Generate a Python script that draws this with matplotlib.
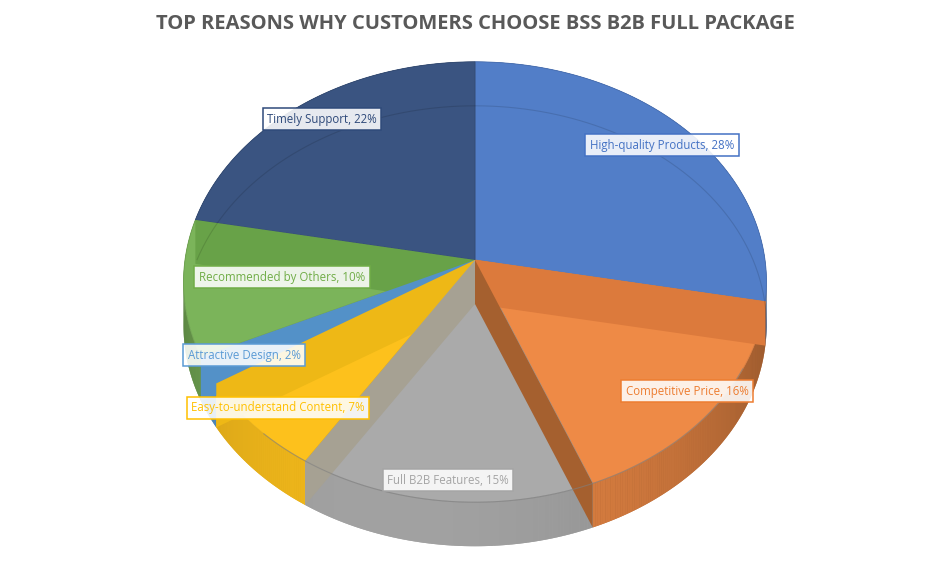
import numpy as np
import matplotlib
matplotlib.use("Agg")
import matplotlib.pyplot as plt
from matplotlib.patches import Polygon

# data
labels = ["High-quality Products", "Competitive Price", "Full B2B Features",
          "Easy-to-understand Content", "Attractive Design",
          "Recommended by Others", "Timely Support"]
values = [28, 16, 15, 7, 2, 10, 22]

# look
top_colors = ["#527EC8", "#EE8A46", "#AAAAAA", "#FDC11C", "#5A9BD3", "#7BB45A", "#3A5481"]
text_colors = ["#4472C4", "#ED7D31", "#A5A5A5", "#FFC000", "#5B9BD5", "#70AD47", "#2F4A7A"]
band_colors = [None, "#DC7A3C", "#A5602F", "#A6A193", "#EEB816", "#5391C8", "#68A248"]
label_pos = [(662, 145), (687, 391), (448, 480), (278, 408), (244, 355), (282, 277), (322, 119)]

W, H = 951, 564
CX, CY = 475, 260
RX, RY = 290, 218
K = 0.1
DEPTH = 44


def proj(theta, r=1.0, drop=0.0):
    t = np.radians(theta)
    X = r * np.sin(t)
    Z = -r * np.cos(t)
    s = 1.0 / (1 - K * Z)
    return CX + RX * X * s, CY + RY * Z * s + drop


def shade(theta):
    c = np.cos(np.radians(theta - 195))
    return 0.58 + 0.37 * np.clip((c + 0.2) / 1.2, 0, 1)


def darker(hexcol, f):
    r, g, b = matplotlib.colors.to_rgb(hexcol)
    return (r * f, g * f, b * f)


fig = plt.figure(figsize=(W / 100, H / 100), dpi=100)
ax = fig.add_axes([0, 0, 1, 1])
ax.set_xlim(0, W)
ax.set_ylim(H, 0)
ax.axis("off")

total = sum(values)
starts = np.cumsum([0] + values[:-1]) / total * 360
ends = np.cumsum(values) / total * 360

# side walls, back to front (a solid underlay per slice, then a smooth shading on top)
walls = []
for i in range(len(values)):
    a0, a1 = starts[i], ends[i]
    ts = np.linspace(a0, a1, max(3, int(a1 - a0) * 2 + 1))
    tm = 0.5 * (a0 + a1)
    outline = [proj(t) for t in ts] + [proj(t, drop=DEPTH) for t in ts[::-1]]
    walls.append((-np.cos(np.radians(tm)), i, ts, outline))
walls.sort(key=lambda w: w[0])
for d, i, ts, outline in walls:
    tm = 0.5 * (ts[0] + ts[-1])
    ax.add_patch(Polygon(outline, closed=True, fc=darker(top_colors[i], shade(tm)),
                         ec="none", zorder=1))
    for t0, t1 in zip(ts[:-1], ts[1:]):
        col = darker(top_colors[i], shade(0.5 * (t0 + t1)))
        pts = [proj(t0), proj(t1), proj(t1, drop=DEPTH), proj(t0, drop=DEPTH)]
        ax.add_patch(Polygon(pts, closed=True, fc=col, ec="none", lw=0, zorder=1))

# top faces
for i in range(len(values)):
    ts = np.linspace(starts[i], ends[i], 200)
    pts = [(CX, CY)] + [proj(t) for t in ts]
    ax.add_patch(Polygon(pts, closed=True, fc=top_colors[i],
                         ec=darker(top_colors[i], 0.9), lw=0.6, zorder=3))

# radial faces seen through the top
order = sorted(range(1, len(values)), key=lambda i: proj(starts[i])[1])
for i in order:
    t = starts[i]
    pts = [(CX, CY), proj(t), proj(t, drop=DEPTH), (CX, CY + DEPTH)]
    ax.add_patch(Polygon(pts, closed=True, fc=band_colors[i], ec="none", zorder=4))

# faint bottom rim at the back
ts = np.linspace(-78, 99, 300)
bx, by = zip(*[proj(t, drop=DEPTH) for t in ts])
ax.plot(bx, by, color="black", alpha=0.12, lw=0.8, zorder=5)

# faint top rim at the front
ts = np.linspace(starts[2] - 40, ends[2] + 10, 200)
fx, fy = zip(*[proj(t) for t in ts])
ax.plot(fx, fy, color="#808080", alpha=0.6, lw=0.8, zorder=5)

# labels
for i in range(len(values)):
    x, y = label_pos[i]
    ax.text(x, y, f"{labels[i]}, {values[i]}%", ha="center", va="center",
            fontsize=8.3, family="Open Sans", color=text_colors[i], zorder=10,
            bbox=dict(boxstyle="square,pad=0.38", fc=(1, 1, 1, 0.88),
                      ec=text_colors[i], lw=1.1))

ax.text(475, 24, "TOP REASONS WHY CUSTOMERS CHOOSE BSS B2B FULL PACKAGE",
        ha="center", va="center", fontsize=14.5, fontweight="bold",
        family="Open Sans", color="#595959")

fig.savefig("out.png", dpi=100)
